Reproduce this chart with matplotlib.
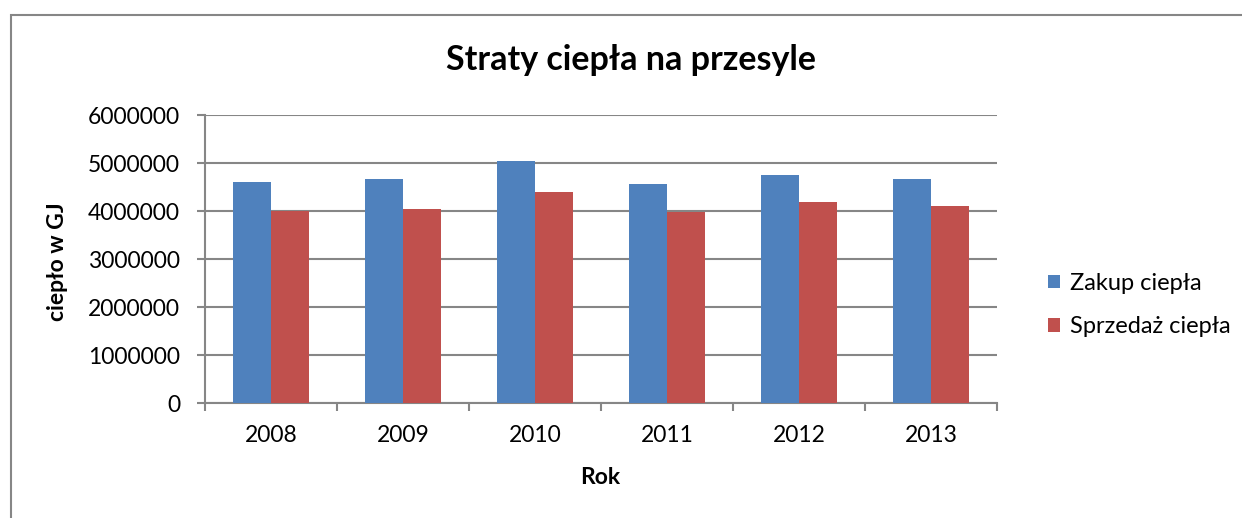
#!/usr/bin/env python3
"""Straty ciepła na przesyle - grouped bars, Excel look."""

import matplotlib.pyplot as plt
import numpy as np
from matplotlib.patches import Rectangle

YEARS = ["2008", "2009", "2010", "2011", "2012", "2013"]
ZAKUP = [4610000, 4660000, 5040000, 4560000, 4750000, 4670000]
SPRZEDAZ = [4010000, 4050000, 4400000, 3980000, 4190000, 4110000]

BLUE = "#4f81bd"
RED = "#c0504d"
GRID = "#868686"

plt.rcParams["font.family"] = ["Lato", "DejaVu Sans"]

W, H = 1242, 518
fig = plt.figure(figsize=(W / 100, H / 100), dpi=100)

# outer chart border (cut by the image edges on right/bottom)
fig.patches.append(Rectangle((11 / W, -0.1), 1.2, 1 - 15 / H + 0.1,
                             transform=fig.transFigure, fill=False,
                             edgecolor=GRID, linewidth=1.5))

ax = fig.add_axes([205 / W, 1 - 403 / H, (997 - 205) / W, (403 - 115) / H])

x = np.arange(len(YEARS))
bw = 1 / 3.5
ax.bar(x - bw / 2, ZAKUP, width=bw, color=BLUE, label="Zakup ciepła", zorder=3)
ax.bar(x + bw / 2, SPRZEDAZ, width=bw, color=RED, label="Sprzedaż ciepła", zorder=3)

ax.set_xlim(-0.5, len(YEARS) - 0.5)
ax.set_ylim(0, 6000000)
ax.set_yticks(np.arange(0, 6000001, 1000000))
ax.set_yticklabels([str(v) for v in range(0, 6000001, 1000000)], fontsize=16.5)
ax.set_xticks(x)
ax.set_xticklabels(YEARS, fontsize=16.5)
ax.set_xticks(np.arange(-0.5, len(YEARS)), minor=True)
ax.tick_params(axis="x", which="major", length=0, pad=16)
ax.tick_params(axis="x", which="minor", length=6, color=GRID, width=1.5)
ax.tick_params(axis="y", length=6, color=GRID, width=1.5, pad=12)

ax.grid(axis="y", color=GRID, linewidth=1.5, zorder=0)
for s in ["top", "right"]:
    ax.spines[s].set_visible(False)
for s in ["left", "bottom"]:
    ax.spines[s].set_color(GRID)
    ax.spines[s].set_linewidth(1.5)

fig.text(631 / W, 1 - 60 / H, "Straty ciepła na przesyle", fontsize=24.5,
         fontweight="bold", ha="center", va="center")
fig.text(600 / W, 1 - 478 / H, "Rok", fontsize=16.5, fontweight="bold",
         ha="center", va="center")
fig.text(58 / W, 1 - 262 / H, "ciepło w GJ", fontsize=16.5, fontweight="bold",
         ha="center", va="center", rotation=90)

ax.legend(loc="center left", bbox_to_anchor=(1036 / W, 1 - 305 / H),
          bbox_transform=fig.transFigure, frameon=False, borderpad=0,
          fontsize=17, handlelength=0.5, handleheight=0.5, handletextpad=0.45,
          labelspacing=0.95)

fig.savefig("out.png", dpi=100)
